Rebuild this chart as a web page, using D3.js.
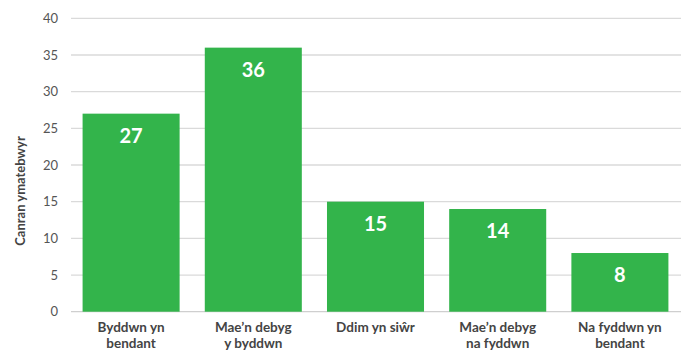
<!DOCTYPE html>
<html><head><meta charset="utf-8">
<script src="https://cdn.jsdelivr.net/npm/d3@7"></script>
<style>body{margin:0;background:#fff}svg{display:block;font-family:Lato,"Open Sans",sans-serif}</style>
</head><body><svg id="c" width="681" height="354"></svg>
<script>
const categories = [["Byddwn yn","bendant"],["Mae\u2019n debyg","y byddwn"],["Ddim yn siŵr"],["Mae\u2019n debyg","na fyddwn"],["Na fyddwn yn","bendant"]];
const values = [27, 36, 15, 14, 8];
const yTicks = [0,5,10,15,20,25,30,35,40];
const yTitle = "Canran ymatebwyr";

const svg = d3.select("#c");
const x = d3.scaleBand().domain(d3.range(values.length)).range([70, 681]).paddingInner(0.206).paddingOuter(0.103);
const y = d3.scaleLinear().domain([0, 40]).range([311.7, 18.3]);

svg.append("g").selectAll("line").data(yTicks).join("line")
  .attr("x1", 71).attr("x2", 681).attr("y1", d => y(d)).attr("y2", d => y(d))
  .attr("stroke", d => d === 0 ? "#cfcfcf" : "#dadada").attr("stroke-width", 1.3);

svg.append("g").selectAll("text").data(yTicks).join("text")
  .attr("x", 58).attr("y", d => y(d)).attr("dy", "0.35em").attr("text-anchor", "end")
  .attr("font-size", 13).attr("fill", "#555").text(d => d);

svg.append("text").attr("transform", "translate(25,191) rotate(-90)")
  .attr("text-anchor", "middle").attr("font-size", 13).attr("font-weight", "bold").attr("fill", "#444").text(yTitle);

svg.append("g").selectAll("rect").data(values).join("rect")
  .attr("x", (d, i) => x(i)).attr("width", x.bandwidth())
  .attr("y", d => y(d)).attr("height", d => y(0) - y(d)).attr("fill", "#33b44b");

svg.append("g").selectAll("text").data(values).join("text")
  .attr("x", (d, i) => x(i) + x.bandwidth() / 2).attr("y", d => y(d) + 29)
  .attr("text-anchor", "middle").attr("font-size", 20).attr("font-weight", "bold").attr("fill", "#fff").text(d => d);

const xl = svg.append("g").selectAll("text").data(categories).join("text")
  .attr("x", (d, i) => x(i) + x.bandwidth() / 2).attr("y", 332)
  .attr("text-anchor", "middle").attr("font-size", 13.5).attr("font-weight", "bold").attr("fill", "#444");
xl.each(function(d){
  const t = d3.select(this);
  d.forEach((line, j) => t.append("tspan").attr("x", t.attr("x")).attr("dy", j ? 16 : 0).text(line));
});
</script></body></html>
